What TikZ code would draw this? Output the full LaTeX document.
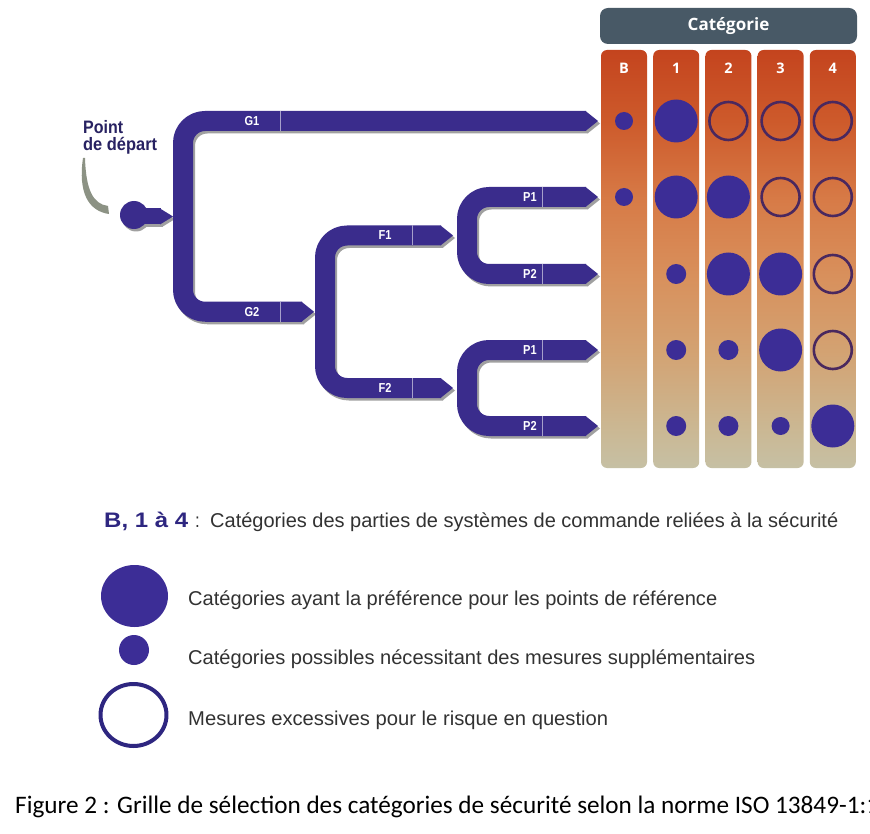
\documentclass[tikz,border=0pt]{standalone}
\usepackage{fontspec}
\usepackage{graphicx}
\setmainfont{Liberation Sans}
\newfontfamily\condfont[FakeStretch=0.85]{Liberation Sans}
\newfontfamily\hfont{Open Sans}
\newfontfamily\capfont{Carlito}
\definecolor{barblue}{RGB}{58,44,140}
\definecolor{dotblue}{RGB}{60,45,150}
\definecolor{ringcol}{RGB}{74,40,94}
\definecolor{hdrcol}{RGB}{72,89,102}
\definecolor{navy}{RGB}{40,34,98}
\definecolor{legbold}{RGB}{46,38,128}
\definecolor{legtext}{RGB}{50,50,50}
\definecolor{arrowgray}{RGB}{140,146,132}
\definecolor{shadowgray}{RGB}{160,160,160}
\definecolor{ctop}{RGB}{196,68,30}
\definecolor{cr1}{RGB}{205,90,43}
\definecolor{cr2}{RGB}{215,123,71}
\definecolor{cr3}{RGB}{216,144,92}
\definecolor{cr4}{RGB}{211,162,114}
\definecolor{cr5}{RGB}{203,183,146}
\definecolor{cbot}{RGB}{198,192,164}
\pgfdeclareverticalshading{colshade}{100bp}{color(0bp)=(cbot); color(25bp)=(cbot); color(30bp)=(cr5); color(39bp)=(cr4); color(48bp)=(cr3); color(57bp)=(cr2); color(66.5bp)=(cr1); color(75bp)=(ctop); color(100bp)=(ctop)}
\tikzset{
  barline/.style={line width=20pt, rounded corners=22pt},
  blab/.style={inner sep=0pt, text=white, font=\condfont\bfseries\fontsize{13}{15}\selectfont},
  sepline/.style={draw=white!55!barblue, line width=0.7pt},
  collab/.style={inner sep=0pt, text=white, font=\hfont\bfseries\fontsize{14.5}{16}\selectfont},
  legtxt/.style={anchor=base west, inner sep=0pt, text=legtext, font=\condfont\fontsize{20}{23}\selectfont},
  bigdot/.style={fill=dotblue},
  ringdot/.style={draw=ringcol, line width=2.6pt}
}
\newcommand\tipR[3]{\fill[#1] (#2-0.5,#3-10) -- (#2+12,#3) -- (#2-0.5,#3+10) -- cycle;}
\newcommand\treedraw[1]{%
  \draw[barline,#1] (586,121) -- (183,121) -- (183,311.75) -- (302,311.75);
  \draw[barline,#1] (441,235.5) -- (325,235.5) -- (325,388) -- (441,388);
  \draw[barline,#1] (586,197) -- (467,197) -- (467,274) -- (586,274);
  \draw[barline,#1] (586,350) -- (467,350) -- (467,426) -- (586,426);
  \tipR{#1}{586}{121}\tipR{#1}{302}{311.75}
  \tipR{#1}{441}{235.5}\tipR{#1}{441}{388}
  \tipR{#1}{586}{197}\tipR{#1}{586}{274}\tipR{#1}{586}{350}\tipR{#1}{586}{426}
  \fill[#1] (134,215) circle[radius=14pt];
  \fill[#1] (134,208.5) rectangle (160.5,224.5);
  \fill[#1] (160,208.5) -- (173,216.5) -- (160,224.5) -- cycle;
}
\begin{document}
\begin{tikzpicture}[x=1pt,y=-1pt,line join=round]
\useasboundingbox (0,0) rectangle (870,834);
\fill[white] (0,0) rectangle (870,834);

% header
\fill[hdrcol, rounded corners=8pt] (600,8) rectangle (857,44);
\node[inner sep=0pt, text=white, font=\hfont\bfseries\fontsize{17}{19}\selectfont] (cat) at (728.5,26) {Catégorie};

% columns
\foreach \i/\lab in {0/B,1/1,2/2,3/3,4/4}{
  \shade[shading=colshade, rounded corners=6pt] ({601+52.2*\i},50) rectangle ({647+52.2*\i},468);
  \node[collab] (col\i) at ({624+52.2*\i},68) {\lab};
}

% tree (shadow + main)
\begin{scope}[shift={(2,2.5)}]
  \treedraw{shadowgray}
\end{scope}
\treedraw{barblue}

% separators and labels
\foreach \y in {121,311.75}{\draw[sepline] (280,\y-10) -- (280,\y+10);}
\foreach \y in {235.5,388}{\draw[sepline] (412,\y-10) -- (412,\y+10);}
\foreach \y in {197,274,350,426}{\draw[sepline] (542,\y-10) -- (542,\y+10);}
\node[blab] (g1) at (252,121) {G1};
\node[blab] (g2) at (252,311.75) {G2};
\node[blab] (f1) at (385,235.5) {F1};
\node[blab] (f2) at (385,388) {F2};
\node[blab] (p1a) at (530,197) {P1};
\node[blab] (p2a) at (530,274) {P2};
\node[blab] (p1b) at (530,350) {P1};
\node[blab] (p2b) at (530,426) {P2};

% start label and arrow
\node[anchor=base west, inner sep=0pt, text=navy, font=\condfont\bfseries\fontsize{18}{20}\selectfont] (pt1) at (83,134) {\resizebox{40pt}{\height}{Point}};
\node[anchor=base west, inner sep=0pt, text=navy, font=\condfont\bfseries\fontsize{18}{20}\selectfont] (pt2) at (83,151) {\resizebox{74pt}{\height}{de départ}};
\fill[arrowgray] (83,158) .. controls (78,192) and (88,211) .. (109,214) -- (108,206) .. controls (93,204) and (86,190) .. (85,158) -- cycle;

% grid dots
\foreach \x/\y/\r in {624/121/9, 676.2/121/21.5, 624/197/9, 676.2/197/21.5, 728.4/197/21.5,
  676.2/274/10, 728.4/274/21.5, 780.6/274/21.5,
  676.2/350/10, 728.4/350/10, 780.6/350/21.5,
  676.2/426/10, 728.4/426/10, 780.6/426/9, 832.8/426/21.5}{
  \fill[bigdot] (\x,\y) circle[radius=\r pt];
}
\foreach \x/\y in {728.4/121, 780.6/121, 832.8/121, 780.6/197, 832.8/197, 832.8/274, 832.8/350}{
  \draw[ringdot] (\x,\y) circle[radius=19pt];
}

% legend
\node[anchor=base west, inner sep=0pt, text=legbold, font=\condfont\bfseries\fontsize{21}{24}\selectfont] (lb) at (104,527) {\resizebox{84pt}{\height}{B, 1 à 4}};
\node[legtxt] (lcolon) at (195,527) {:};
\node[legtxt] (l0) at (210,527) {\resizebox{628pt}{\height}{Catégories des parties de systèmes de commande reliées à la sécurité}};
\fill[dotblue] (134.5,596) ellipse [x radius=33.5pt, y radius=31pt];
\node[legtxt] (l1) at (188,605) {\resizebox{529pt}{\height}{Catégories ayant la préférence pour les points de référence}};
\fill[dotblue] (134,650) circle[radius=15pt];
\node[legtxt] (l2) at (188,664) {\resizebox{567pt}{\height}{Catégories possibles nécessitant des mesures supplémentaires}};
\draw[draw=legbold, line width=4pt] (133.5,715) ellipse [x radius=33pt, y radius=31pt];
\node[legtxt] (l3) at (188,725) {\resizebox{420pt}{\height}{Mesures excessives pour le risque en question}};

% caption (cut at the right edge, as in the reference)
\node[anchor=base west, inner sep=0pt, text=black, font=\capfont\fontsize{25.2}{28}\selectfont] (cap) at (15,813) {Figure 2 : Grille de sélection des catégories de sécurité selon la norme ISO 13849-1:1};
\end{tikzpicture}
\end{document}
